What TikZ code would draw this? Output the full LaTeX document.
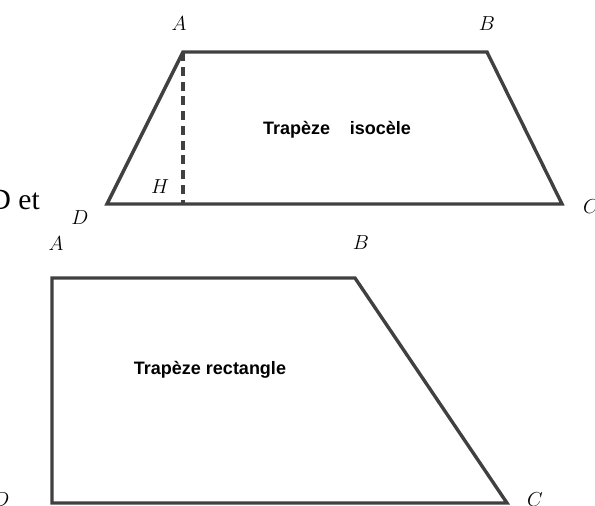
\documentclass[tikz,border=0pt]{standalone}
\usepackage{fontspec}
\usepackage{tikz}
\usetikzlibrary{positioning, calc}
\newfontfamily\captionfont{Liberation Sans}
\newfontfamily\notefont{Liberation Serif}
\definecolor{edgegray}{RGB}{64, 64, 64}
\tikzset{
  sideline/.style={draw=edgegray, line width=2.4pt, line join=miter},
  heightline/.style={draw=edgegray, line width=2.4pt, dash pattern=on 6.5pt off 4pt},
  ptlabel/.style={inner sep=0pt, font=\Large},
  namelabel/.style={inner sep=0pt, font=\captionfont\bfseries\fontsize{12.8}{15}\selectfont},
  notelabel/.style={inner sep=0pt, font=\notefont\fontsize{21}{24}\selectfont}
}
\begin{document}
\begin{tikzpicture}[x=0.025cm, y=-0.025cm]
  \useasboundingbox (0,0) rectangle (595,506);

  % Top figure: isosceles trapezoid with height AH
  \coordinate (A1) at (183,52);
  \coordinate (B1) at (487,52);
  \coordinate (C1) at (562,204);
  \coordinate (D1) at (107,204);
  \coordinate (H1) at (183,204);

  \draw[sideline] (A1) -- (B1) -- (C1) -- (D1) -- cycle;
  \draw[heightline] (A1) -- (H1);

  \node[ptlabel] (labA1) at (179,24) {$A$};
  \node[ptlabel] (labB1) at (487,24) {$B$};
  \node[ptlabel] (labC1) at (591,207) {$C$};
  \node[ptlabel] (labD1) at (80,218) {$D$};
  \node[ptlabel] (labH1) at (160,187) {$H$};
  \node[namelabel] (name1) at (337,130) {Trapèze\hspace{14pt}isocèle};
  \node[notelabel, anchor=base east] (note) at (40,209) {D et};

  % Bottom figure: right trapezoid
  \coordinate (A2) at (52,278);
  \coordinate (B2) at (355,278);
  \coordinate (C2) at (507,503);
  \coordinate (D2) at (52,503);

  \draw[sideline] (A2) -- (B2) -- (C2) -- (D2) -- cycle;

  \node[ptlabel] (labA2) at (56,244) {$A$};
  \node[ptlabel] (labB2) at (361,243) {$B$};
  \node[ptlabel] (labC2) at (535,500) {$C$};
  \node[ptlabel] (labD2) at (1,500) {$D$};
  \node[namelabel] (name2) at (210,370) {Trapèze rectangle};
\end{tikzpicture}
\end{document}
